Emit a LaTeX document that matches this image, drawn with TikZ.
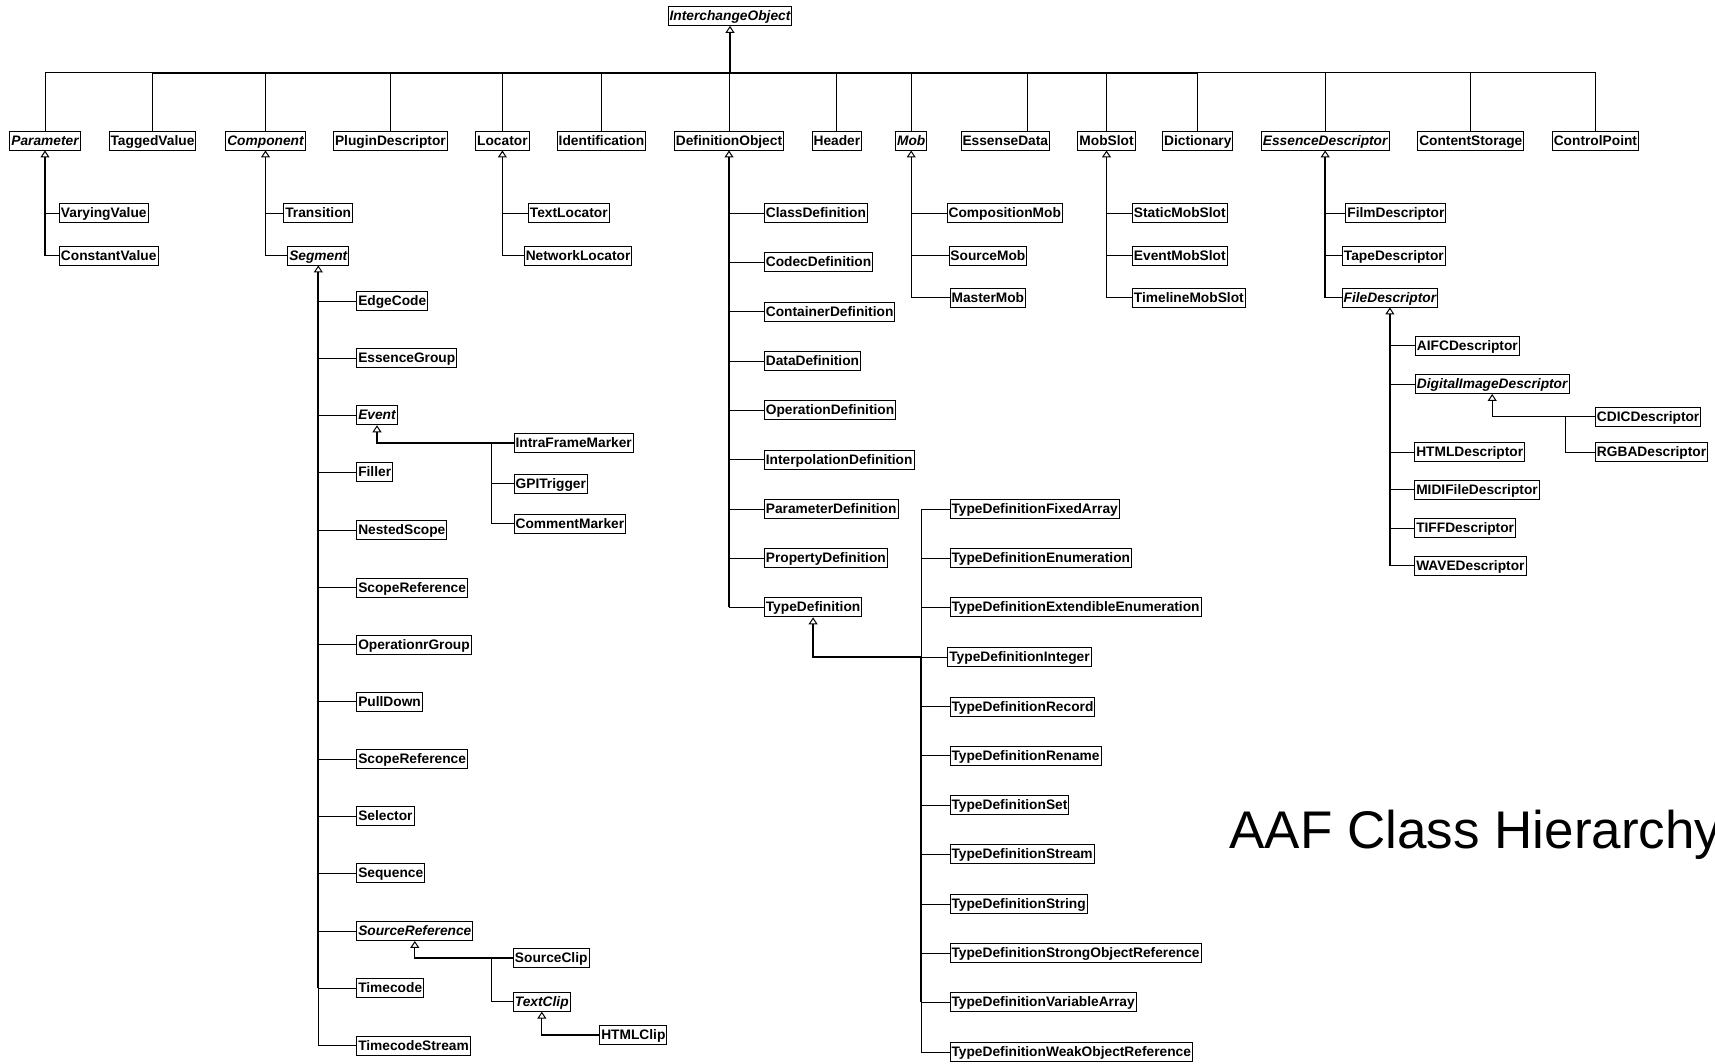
\documentclass[tikz,border=0pt]{standalone}
\usepackage{fontspec}
\setmainfont{Liberation Sans}
\usetikzlibrary{arrows.meta}
\tikzset{
  cls/.style={draw, line width=0.9pt, font=\fontsize{13.75}{15}\selectfont\bfseries,
    inner xsep=1.5pt, inner ysep=0pt, minimum height=19pt, text height=12pt, text depth=3pt},
  abs/.style={cls, font=\fontsize{13.75}{15}\selectfont\bfseries\itshape},
  ch/.style={cls, anchor=west},
  chabs/.style={abs, anchor=west},
  link/.style={line width=1pt},
  trunk/.style={line width=1.6pt},
  gen/.style={-{Triangle[open,length=7pt,width=9pt,line width=1pt]}},
}
\begin{document}
\begin{tikzpicture}[x=1pt,y=-1pt]
\useasboundingbox (0,0) rectangle (1715,1063);
% root
\node[abs] (IO) at (730,15.9) {InterchangeObject};
% top row
\node[abs] (Par) at (45,140.5) {Parameter};
\node[cls] (TV) at (152.5,140.5) {TaggedValue};
\node[abs] (Comp) at (265.5,140.5) {Component};
\node[cls] (PD) at (390.4,140.5) {PluginDescriptor};
\node[cls] (Loc) at (502.4,140.5) {Locator};
\node[cls] (Ident) at (601.5,140.5) {Identification};
\node[cls] (DO) at (729,140.5) {DefinitionObject};
\node[cls] (Head) at (836.9,140.5) {Header};
\node[abs] (Mob) at (911.2,140.5) {Mob};
\node[cls] (ED) at (1005.3,140.5) {EssenseData};
\node[cls] (MS) at (1106.5,140.5) {MobSlot};
\node[cls] (Dic) at (1197.8,140.5) {Dictionary};
\node[abs] (EDesc) at (1325.2,140.5) {EssenceDescriptor};
\node[cls] (CS) at (1470.8,140.5) {ContentStorage};
\node[cls] (CP) at (1595.4,140.5) {ControlPoint};
% Parameter children
\node[ch] (VV) at (59,213.3) {VaryingValue};
\node[ch] (CV) at (59,255.5) {ConstantValue};
% Component children
\node[ch] (Trans) at (283.4,213.3) {Transition};
\node[chabs] (Seg) at (287.3,255.5) {Segment};
% Locator children
\node[ch] (TL) at (528,213.3) {TextLocator};
\node[ch] (NL) at (523.8,255.5) {NetworkLocator};
% DefinitionObject children
\node[ch] (ClD) at (763.9,213.3) {ClassDefinition};
\node[ch] (CoD) at (763.9,262.4) {CodecDefinition};
\node[ch] (CnD) at (763.9,311.7) {ContainerDefinition};
\node[ch] (DaD) at (763.9,361.2) {DataDefinition};
\node[ch] (OpD) at (763.9,410.3) {OperationDefinition};
\node[ch] (InD) at (763.9,459.6) {InterpolationDefinition};
\node[ch] (PaD) at (763.9,509.0) {ParameterDefinition};
\node[ch] (PrD) at (763.9,558.2) {PropertyDefinition};
\node[ch] (TD) at (763.9,607.4) {TypeDefinition};
% Mob children
\node[ch] (CMob) at (946.7,213.3) {CompositionMob};
\node[ch] (SMob) at (948.5,255.5) {SourceMob};
\node[ch] (MMob) at (949.6,297.5) {MasterMob};
% MobSlot children
\node[ch] (SMS) at (1132,213.3) {StaticMobSlot};
\node[ch] (EMS) at (1132,255.5) {EventMobSlot};
\node[ch] (TMS) at (1132,297.5) {TimelineMobSlot};
% EssenceDescriptor children
\node[ch] (FilmD) at (1345.4,213.3) {FilmDescriptor};
\node[ch] (TapeD) at (1342,255.5) {TapeDescriptor};
\node[chabs] (FileD) at (1341.7,297.5) {FileDescriptor};
% FileDescriptor children
\node[ch] (AIFC) at (1415,345.7) {AIFCDescriptor};
\node[chabs] (DID) at (1415,384) {DigitalImageDescriptor};
\node[ch] (HTMLD) at (1414.3,452) {HTMLDescriptor};
\node[ch] (MIDI) at (1414.3,489.7) {MIDIFileDescriptor};
\node[ch] (TIFF) at (1414.3,528) {TIFFDescriptor};
\node[ch] (WAVE) at (1414.3,565.7) {WAVEDescriptor};
\node[ch] (CDIC) at (1595,416.7) {CDICDescriptor};
\node[ch] (RGBA) at (1595,452) {RGBADescriptor};
% Segment children
\node[ch] (Edge) at (356.3,301) {EdgeCode};
\node[ch] (EsG) at (356.3,358.3) {EssenceGroup};
\node[chabs] (Ev) at (356.3,415.3) {Event};
\node[ch] (Fil) at (356.3,472.3) {Filler};
\node[ch] (NS) at (356.3,530) {NestedScope};
\node[ch] (ScA) at (356.3,587.5) {ScopeReference};
\node[ch] (OpG) at (356.3,644.7) {OperationrGroup};
\node[ch] (PD2) at (356.3,701.7) {PullDown};
\node[ch] (ScB) at (356.3,759) {ScopeReference};
\node[ch] (Sel) at (356.3,816.3) {Selector};
\node[ch] (Seq) at (356.3,873.3) {Sequence};
\node[chabs] (SR) at (356.3,931) {SourceReference};
\node[ch] (TC) at (356.3,988.3) {Timecode};
\node[ch] (TCS) at (356.3,1045.7) {TimecodeStream};
% Event children
\node[ch] (IFM) at (513.7,443) {IntraFrameMarker};
\node[ch] (GPI) at (513.7,483.5) {GPITrigger};
\node[ch] (CM) at (513.7,523.5) {CommentMarker};
% SourceReference children
\node[ch] (SC) at (513,958) {SourceClip};
\node[chabs] (TxC) at (513,1001.7) {TextClip};
\node[ch] (HC) at (599.3,1035) {HTMLClip};
% TypeDefinition children
\node[ch] (TFA) at (949.6,509.3) {TypeDefinitionFixedArray};
\node[ch] (TEn) at (949.6,558.3) {TypeDefinitionEnumeration};
\node[ch] (TEE) at (949.6,607.3) {TypeDefinitionExtendibleEnumeration};
\node[ch] (TInt) at (947.4,657.3) {TypeDefinitionInteger};
\node[ch] (TRec) at (949.6,706.7) {TypeDefinitionRecord};
\node[ch] (TRen) at (949.6,755.7) {TypeDefinitionRename};
\node[ch] (TSet) at (949.6,805) {TypeDefinitionSet};
\node[ch] (TStm) at (949.6,854.3) {TypeDefinitionStream};
\node[ch] (TStr) at (949.6,904) {TypeDefinitionString};
\node[ch] (TSOR) at (949.6,953.3) {TypeDefinitionStrongObjectReference};
\node[ch] (TVA) at (949.6,1002.3) {TypeDefinitionVariableArray};
\node[ch] (TWOR) at (949.6,1052.3) {TypeDefinitionWeakObjectReference};
% title
\node[anchor=base west, inner sep=0pt, font=\fontsize{53}{58}\selectfont] (title) at (1229.3,848.3) {AAF Class Hierarchy};

% ---- connectors ----
\coordinate (bus) at (730,72.7);
\foreach \n in {Par,TV,Comp,PD,Loc,Ident,DO,Head,Mob,MS,Dic,EDesc,CS,CP}
  \draw[link] (\n.north) |- (bus);
\draw[link] ([xshift=22.3pt]ED.north) |- (bus);
\draw[line width=2pt] (TV.north |- bus) -- (Dic.north |- bus);
\draw[trunk,gen] (bus) -- (IO.south);

% Parameter
\foreach \c in {VV,CV} \draw[link] (\c.west) -- (\c.west -| Par.south);
\draw[link,line width=1.3pt,gen] (Par.south |- CV.west) -- (Par.south);
% Component
\foreach \c in {Trans,Seg} \draw[link] (\c.west) -- (\c.west -| Comp.south);
\draw[link,line width=1.2pt,gen] (Comp.south |- Seg.west) -- (Comp.south);
% Locator
\foreach \c in {TL,NL} \draw[link] (\c.west) -- (\c.west -| Loc.south);
\draw[link,line width=1.2pt,gen] (Loc.south |- NL.west) -- (Loc.south);
% DefinitionObject
\foreach \c in {ClD,CoD,CnD,DaD,OpD,InD,PaD,PrD,TD} \draw[link] (\c.west) -- (\c.west -| DO.south);
\draw[link,line width=1.2pt,gen] (DO.south |- TD.west) -- (DO.south);
% Mob
\foreach \c in {CMob,SMob,MMob} \draw[link] (\c.west) -- (\c.west -| Mob.south);
\draw[link,line width=1.2pt,gen] (Mob.south |- MMob.west) -- (Mob.south);
% MobSlot
\foreach \c in {SMS,EMS,TMS} \draw[link] (\c.west) -- (\c.west -| MS.south);
\draw[link,line width=1.2pt,gen] (MS.south |- TMS.west) -- (MS.south);
% EssenceDescriptor
\foreach \c in {FilmD,TapeD,FileD} \draw[link] (\c.west) -- (\c.west -| EDesc.south);
\draw[trunk,gen] (EDesc.south |- FileD.west) -- (EDesc.south);
% FileDescriptor
\foreach \c in {AIFC,DID,HTMLD,MIDI,TIFF,WAVE} \draw[link] (\c.west) -- (\c.west -| FileD.south);
\draw[trunk,gen] (FileD.south |- WAVE.west) -- (FileD.south);
% DigitalImageDescriptor
\coordinate (didj) at (1565.7,416.7);
\draw[link,line width=1.3pt,gen] (CDIC.west) -| (DID.south);
\draw[link] (RGBA.west) -| (didj);
% Segment
\foreach \c in {Edge,EsG,Ev,Fil,NS,ScA,OpG,PD2,ScB,Sel,Seq,SR,TC,TCS} \draw[link] (\c.west) -- (\c.west -| Seg.south);
\draw[link] (Seg.south |- TCS.west) -- (Seg.south |- TC.west);
\draw[line width=2pt,gen] (Seg.south |- TC.west) -- (Seg.south);
% Event
\coordinate (evj) at (491,443);
\draw[link,line width=1.3pt,gen] (IFM.west) -| (Ev.south);
\draw[link] (CM.west) -| (evj);
\draw[link] (GPI.west) -- (GPI.west -| evj);
% SourceReference
\coordinate (srj) at (491,958);
\draw[link,line width=1.3pt,gen] (SC.west) -| (SR.south);
\draw[link] (TxC.west) -| (srj);
\draw[link,line width=1.2pt,gen] (HC.west) -| (TxC.south);
% TypeDefinition
\coordinate (tdj) at (921.3,657.3);
\foreach \c in {TFA,TEn,TEE,TInt,TRec,TRen,TSet,TStm,TStr,TSOR,TVA,TWOR} \draw[link] (\c.west) -- (\c.west -| tdj);
\draw[link] (tdj |- TFA.west) -- (tdj |- TWOR.west);
\draw[line width=2pt] (tdj) -- (tdj |- TVA.west);
\draw[line width=2pt,gen] (tdj) -| (TD.south);
\end{tikzpicture}
\end{document}
